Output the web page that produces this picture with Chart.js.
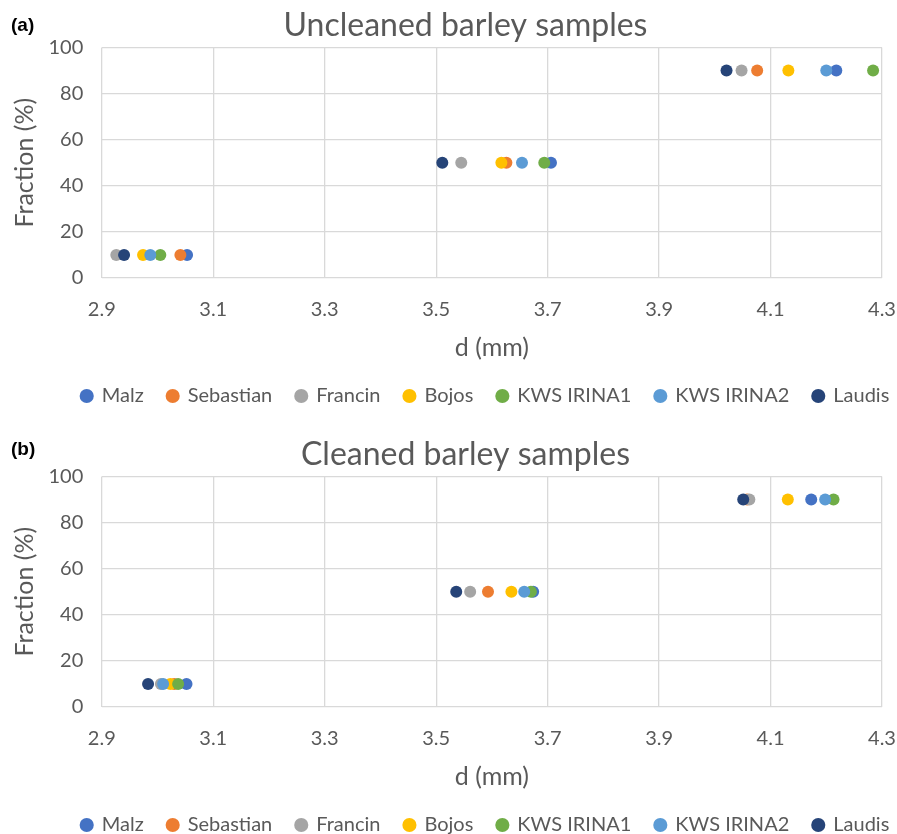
<!DOCTYPE html>
<html>
<head>
<meta charset="utf-8">
<script src="https://cdn.jsdelivr.net/npm/chart.js@4/dist/chart.umd.min.js"></script>
<style>
    body { margin: 0; background: #fff; width: 897px; height: 834px; position: relative; overflow: hidden; }
    .panel { position: absolute; left: 0; width: 897px; height: 416px; }
    .tag { position: absolute; left: 11px; font: bold 19px "Liberation Sans", Arial, sans-serif; color: #000; z-index: 2; }
</style>
</head>
<body>
<div class="panel" style="top: 0;"><canvas id="uncleaned"></canvas></div>
<div class="panel" style="top: 429px;"><canvas id="cleaned"></canvas></div>
<div class="tag" style="top: 14px;">(a)</div>
<div class="tag" style="top: 438px;">(b)</div>
<script>
// cultivar order as in the legend
const cultivars = ["Malz", "Sebastian", "Francin", "Bojos", "KWS IRINA1", "KWS IRINA2", "Laudis"];
const colores = ["#4472C4", "#ED7D31", "#A5A5A5", "#FFC000", "#70AD47", "#5B9BD5", "#264478"];
const fractions = [10, 50, 90];
const xTicks = [2.9, 3.1, 3.3, 3.5, 3.7, 3.9, 4.1, 4.3];
const yTicks = [0, 20, 40, 60, 80, 100];

// d (mm) at each fraction, one value per cultivar (same order)
const uncleanedD10 = [3.053, 3.041, 2.926, 2.974, 3.005, 2.987, 2.940];
const uncleanedD50 = [3.706, 3.626, 3.545, 3.617, 3.694, 3.654, 3.511];
const uncleanedD90 = [4.218, 4.076, 4.048, 4.132, 4.284, 4.200, 4.021];

const cleanedD10 = [3.052, 3.030, 3.006, 3.023, 3.037, 3.010, 2.983];
const cleanedD50 = [3.674, 3.593, 3.561, 3.635, 3.670, 3.658, 3.536];
const cleanedD90 = [4.173, 4.058, 4.062, 4.131, 4.213, 4.198, 4.051];

const fuente = "Lato, 'Liberation Sans', sans-serif";
const gris = "#595959";

// title and legend in the original sit a bit right of centre
const moverCajas = {
    id: "moverCajas",
    afterLayout(chart) {
        chart.titleBlock.left += 7;
        chart.titleBlock.right += 7;
        chart.legend.left += 27;
        chart.legend.right += 27;
    },
};

function armarDatasets(d10, d50, d90) {
    let ds = [];
    for (let i = 0; i < cultivars.length; i++) {
        ds.push({
            label: cultivars[i],
            data: [
                { x: d10[i], y: fractions[0] },
                { x: d50[i], y: fractions[1] },
                { x: d90[i], y: fractions[2] },
            ],
            // later series painted on top, as in the original
            order: cultivars.length - i,
            backgroundColor: colores[i],
            borderColor: colores[i],
            pointRadius: 6,
            pointHoverRadius: 6,
            borderWidth: 0,
        });
    }
    return ds;
}

function graficar(id, titulo, datasets) {
    const ctx = document.getElementById(id);
    return new Chart(ctx, {
        type: "scatter",
        data: { datasets: datasets },
        plugins: [moverCajas],
        options: {
            responsive: true,
            maintainAspectRatio: false,
            animation: false,
            layout: { padding: { left: 20, right: 0, top: 0, bottom: 0 } },
            plugins: {
                title: {
                    display: true,
                    text: titulo,
                    color: gris,
                    font: { family: fuente, size: 32, weight: "normal" },
                    padding: { top: 6, bottom: 3 },
                },
                legend: {
                    position: "bottom",
                    labels: {
                        usePointStyle: true,
                        pointStyle: "circle",
                        boxWidth: 10,
                        boxHeight: 10,
                        padding: 24,
                        color: gris,
                        font: { family: fuente, size: 20 },
                        sort: (a, b) => a.datasetIndex - b.datasetIndex,
                    },
                },
                tooltip: { enabled: false },
            },
            scales: {
                x: {
                    type: "linear",
                    min: xTicks[0],
                    max: xTicks[xTicks.length - 1],
                    afterBuildTicks: function(axis) {
                        axis.ticks = xTicks.map(v => ({ value: v }));
                    },
                    // tick padding would otherwise be added at the right end too
                    afterFit: function(axis) {
                        axis.paddingRight = 15;
                    },
                    ticks: {
                        color: gris,
                        padding: 20,
                        font: { family: fuente, size: 20 },
                        callback: v => Number(v).toFixed(1),
                    },
                    grid: { color: "#D9D9D9", lineWidth: 1.3, drawTicks: false },
                    border: { display: false },
                    title: {
                        display: true,
                        text: "d (mm)",
                        color: gris,
                        font: { family: fuente, size: 25, lineHeight: 0.5 },
                        padding: { top: 0, bottom: 7.5 },
                    },
                },
                y: {
                    min: yTicks[0],
                    max: yTicks[yTicks.length - 1],
                    afterBuildTicks: function(axis) {
                        axis.ticks = yTicks.map(v => ({ value: v }));
                    },
                    ticks: {
                        color: gris,
                        padding: 18.5,
                        font: { family: fuente, size: 20 },
                    },
                    grid: { color: "#D9D9D9", lineWidth: 1.3, drawTicks: false },
                    border: { display: false },
                    title: {
                        display: true,
                        text: "Fraction (%)",
                        color: gris,
                        font: { family: fuente, size: 25, lineHeight: 0.4 },
                        padding: { top: 0, bottom: 0 },
                    },
                },
            },
        },
    });
}

graficar("uncleaned", "Uncleaned barley samples", armarDatasets(uncleanedD10, uncleanedD50, uncleanedD90));
graficar("cleaned", "Cleaned barley samples", armarDatasets(cleanedD10, cleanedD50, cleanedD90));
</script>
</body>
</html>
